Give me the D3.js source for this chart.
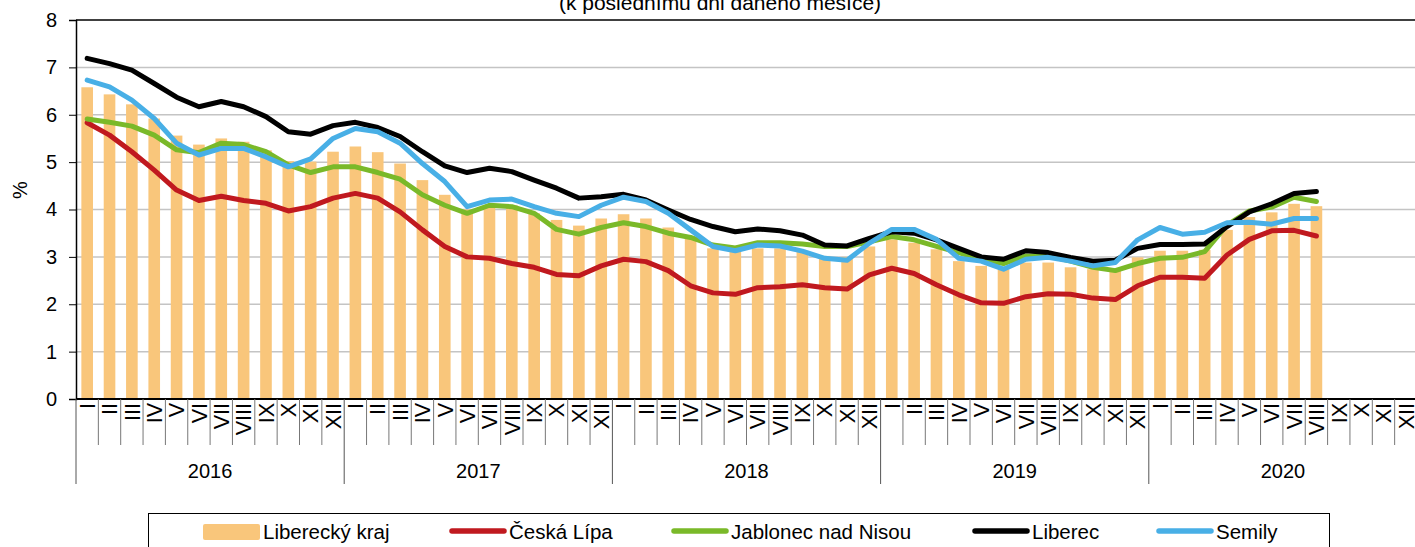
<!DOCTYPE html>
<html>
<head>
<meta charset="utf-8">
<script src="https://cdn.jsdelivr.net/npm/d3@7"></script>
<style>
  body { margin: 0; background: #fff; }
  svg { display: block; font-family: "Liberation Sans", Arial, sans-serif; }
</style>
</head>
<body>
<script>
// size of the page
let width = 1415, height = 547

// categories: roman months and years
let months = ['I', 'II', 'III', 'IV', 'V', 'VI', 'VII', 'VIII', 'IX', 'X', 'XI', 'XII']
let years = ['2016', '2017', '2018', '2019', '2020']
let yTicks = [0, 1, 2, 3, 4, 5, 6, 7, 8]

// series values, one per month from I/2016 to VIII/2020
let liberecky = [6.58, 6.43, 6.22, 5.92, 5.56, 5.37, 5.50, 5.43, 5.25, 5.02, 5.01, 5.22,
  5.33, 5.21, 4.97, 4.62, 4.31, 4.00, 4.06, 4.09, 3.92, 3.78, 3.66, 3.81,
  3.90, 3.81, 3.62, 3.39, 3.18, 3.11, 3.18, 3.18, 3.11, 3.02, 3.00, 3.22,
  3.37, 3.30, 3.16, 2.91, 2.81, 2.74, 2.88, 2.88, 2.78, 2.74, 2.74, 2.99,
  3.13, 3.13, 3.15, 3.57, 3.84, 3.94, 4.12, 4.07]
let ceskaLipa = [5.83, 5.57, 5.22, 4.83, 4.41, 4.19, 4.28, 4.19, 4.13, 3.97, 4.06, 4.24,
  4.34, 4.24, 3.95, 3.57, 3.22, 3.00, 2.97, 2.86, 2.78, 2.63, 2.60, 2.81,
  2.95, 2.90, 2.71, 2.39, 2.24, 2.21, 2.35, 2.37, 2.41, 2.35, 2.32, 2.62,
  2.76, 2.65, 2.41, 2.20, 2.03, 2.02, 2.16, 2.22, 2.21, 2.13, 2.10, 2.39,
  2.57, 2.57, 2.55, 3.04, 3.37, 3.55, 3.56, 3.44]
let jablonec = [5.91, 5.84, 5.76, 5.57, 5.26, 5.20, 5.40, 5.37, 5.22, 4.94, 4.78, 4.90,
  4.90, 4.78, 4.64, 4.31, 4.09, 3.92, 4.09, 4.06, 3.92, 3.58, 3.48, 3.62,
  3.72, 3.64, 3.50, 3.41, 3.25, 3.19, 3.30, 3.30, 3.27, 3.22, 3.22, 3.32,
  3.43, 3.36, 3.22, 3.09, 2.95, 2.86, 3.02, 3.02, 2.91, 2.78, 2.71, 2.86,
  2.97, 2.99, 3.11, 3.67, 3.97, 4.05, 4.26, 4.17]
let liberec = [7.19, 7.08, 6.94, 6.66, 6.37, 6.17, 6.28, 6.17, 5.96, 5.64, 5.59, 5.77,
  5.84, 5.73, 5.54, 5.22, 4.92, 4.78, 4.87, 4.80, 4.62, 4.45, 4.24, 4.27,
  4.32, 4.20, 3.99, 3.79, 3.64, 3.53, 3.59, 3.55, 3.46, 3.25, 3.23, 3.39,
  3.53, 3.50, 3.36, 3.18, 3.00, 2.95, 3.13, 3.09, 2.99, 2.91, 2.93, 3.18,
  3.26, 3.26, 3.27, 3.64, 3.95, 4.12, 4.34, 4.38]
let semily = [6.73, 6.59, 6.31, 5.92, 5.40, 5.15, 5.29, 5.29, 5.11, 4.90, 5.07, 5.50,
  5.71, 5.64, 5.40, 4.97, 4.59, 4.06, 4.20, 4.22, 4.06, 3.92, 3.85, 4.09,
  4.26, 4.17, 3.92, 3.57, 3.22, 3.13, 3.25, 3.23, 3.12, 2.97, 2.93, 3.29,
  3.58, 3.58, 3.37, 2.97, 2.91, 2.74, 2.95, 2.99, 2.91, 2.81, 2.88, 3.36,
  3.62, 3.48, 3.52, 3.72, 3.73, 3.69, 3.81, 3.81]

// line series with their colours (legend order)
let lineSeries = [
  { name: 'Česká Lípa', values: ceskaLipa, color: '#c0191f' },
  { name: 'Jablonec nad Nisou', values: jablonec, color: '#7ab929' },
  { name: 'Liberec', values: liberec, color: '#000000' },
  { name: 'Semily', values: semily, color: '#48afe6' }
]
let barColor = '#f9c67b'

// all 60 slots on the x axis (the last months of 2020 are empty)
let slots = []
years.forEach(y => months.forEach(m => slots.push(y + '-' + m)))

// plot area
let plotLeft = 76, plotRight = 1417, plotTop = 20, plotBottom = 399

let x = d3.scaleBand()
  .domain(d3.range(slots.length))
  .range([plotLeft, plotRight])
  .paddingInner(0.48)
  .paddingOuter(0.24)

let step = x.step()

let y = d3.scaleLinear()
  .domain([0, 8])
  .range([plotBottom, plotTop])

let svg = d3.select('body')
  .append('svg')
  .attr('width', width)
  .attr('height', height)

// title (only its lower line is visible)
svg.append('text')
  .attr('x', 720)
  .attr('y', 10)
  .attr('text-anchor', 'middle')
  .attr('font-size', 21)
  .text('(k poslednímu dni daného měsíce)')

// horizontal gridlines
svg.append('g')
  .selectAll('line')
  .data(yTicks.filter(d => d > 0))
  .join('line')
  .attr('x1', plotLeft)
  .attr('x2', width)
  .attr('y1', d => y(d))
  .attr('y2', d => y(d))
  .attr('stroke', d => d === 8 ? '#000' : '#c4c4c4')
  .attr('stroke-width', 1.5)

// bars for Liberecký kraj
svg.append('g')
  .selectAll('rect')
  .data(liberecky)
  .join('rect')
  .attr('x', (d, i) => x(i))
  .attr('width', x.bandwidth())
  .attr('y', d => y(d))
  .attr('height', d => y(0) - y(d))
  .attr('fill', barColor)

// lines for the districts
let line = d3.line()
  .x((d, i) => x(i) + x.bandwidth() / 2)
  .y(d => y(d))

svg.append('g')
  .selectAll('path')
  .data(lineSeries)
  .join('path')
  .attr('d', d => line(d.values))
  .attr('fill', 'none')
  .attr('stroke', d => d.color)
  .attr('stroke-width', 5)
  .attr('stroke-linejoin', 'round')
  .attr('stroke-linecap', 'round')

// y axis
let yAxis = svg.append('g')
  .attr('transform', `translate(${plotLeft},0)`)
  .call(d3.axisLeft(y).tickValues(yTicks).tickSize(7).tickPadding(12).tickFormat(d3.format('d')))
yAxis.select('.domain').attr('stroke', '#000').attr('stroke-width', 1.5)
yAxis.selectAll('.tick line').attr('stroke', '#000')
yAxis.selectAll('.tick text')
  .attr('font-size', 20)
  .attr('font-family', '"Liberation Sans", Arial, sans-serif')
  .attr('fill', '#000')

svg.append('text')
  .attr('transform', 'translate(27,190) rotate(-90)')
  .attr('text-anchor', 'middle')
  .attr('font-size', 20)
  .text('%')

// x axis: baseline, month separators, year separators
svg.append('line')
  .attr('x1', plotLeft).attr('x2', width)
  .attr('y1', plotBottom).attr('y2', plotBottom)
  .attr('stroke', '#000')
  .attr('stroke-width', 2)

svg.append('g')
  .selectAll('line')
  .data(d3.range(slots.length + 1))
  .join('line')
  .attr('x1', i => plotLeft + i * step)
  .attr('x2', i => plotLeft + i * step)
  .attr('y1', plotBottom)
  .attr('y2', i => i % 12 === 0 ? 484 : 445)
  .attr('stroke', i => i % 12 === 0 ? '#555' : '#777')
  .attr('stroke-width', 1)

// month labels, rotated
svg.append('g')
  .selectAll('text')
  .data(slots)
  .join('text')
  .attr('transform', (d, i) => `translate(${plotLeft + (i + 0.5) * step},403) rotate(-90)`)
  .attr('text-anchor', 'end')
  .attr('dy', '0.36em')
  .attr('font-size', 21.5)
  .text(d => d.split('-')[1])

// year labels
svg.append('g')
  .selectAll('text')
  .data(years)
  .join('text')
  .attr('x', (d, i) => plotLeft + (i * 12 + 6) * step)
  .attr('y', 478)
  .attr('text-anchor', 'middle')
  .attr('font-size', 20)
  .text(d => d)

// legend
let legend = svg.append('g')
legend.append('rect')
  .attr('x', 148.5).attr('y', 513.5)
  .attr('width', 1181).attr('height', 40)
  .attr('fill', '#fff')
  .attr('stroke', '#000')
  .attr('stroke-width', 1)

legend.append('rect')
  .attr('x', 203).attr('y', 524)
  .attr('width', 57).attr('height', 16)
  .attr('rx', 2)
  .attr('fill', barColor)
legend.append('text')
  .attr('x', 263).attr('y', 538.5)
  .attr('font-size', 20.5)
  .text('Liberecký kraj')

let legendX = [450, 672, 973, 1157]
let items = legend.selectAll('g.item')
  .data(lineSeries)
  .join('g')
  .attr('class', 'item')
  .attr('transform', (d, i) => `translate(${legendX[i]},531)`)
items.append('line')
  .attr('x1', 2).attr('x2', 54)
  .attr('stroke', d => d.color)
  .attr('stroke-width', 5.5)
  .attr('stroke-linecap', 'round')
items.append('text')
  .attr('x', 59).attr('y', 7.5)
  .attr('font-size', 20.5)
  .text(d => d.name)
</script>
</body>
</html>
